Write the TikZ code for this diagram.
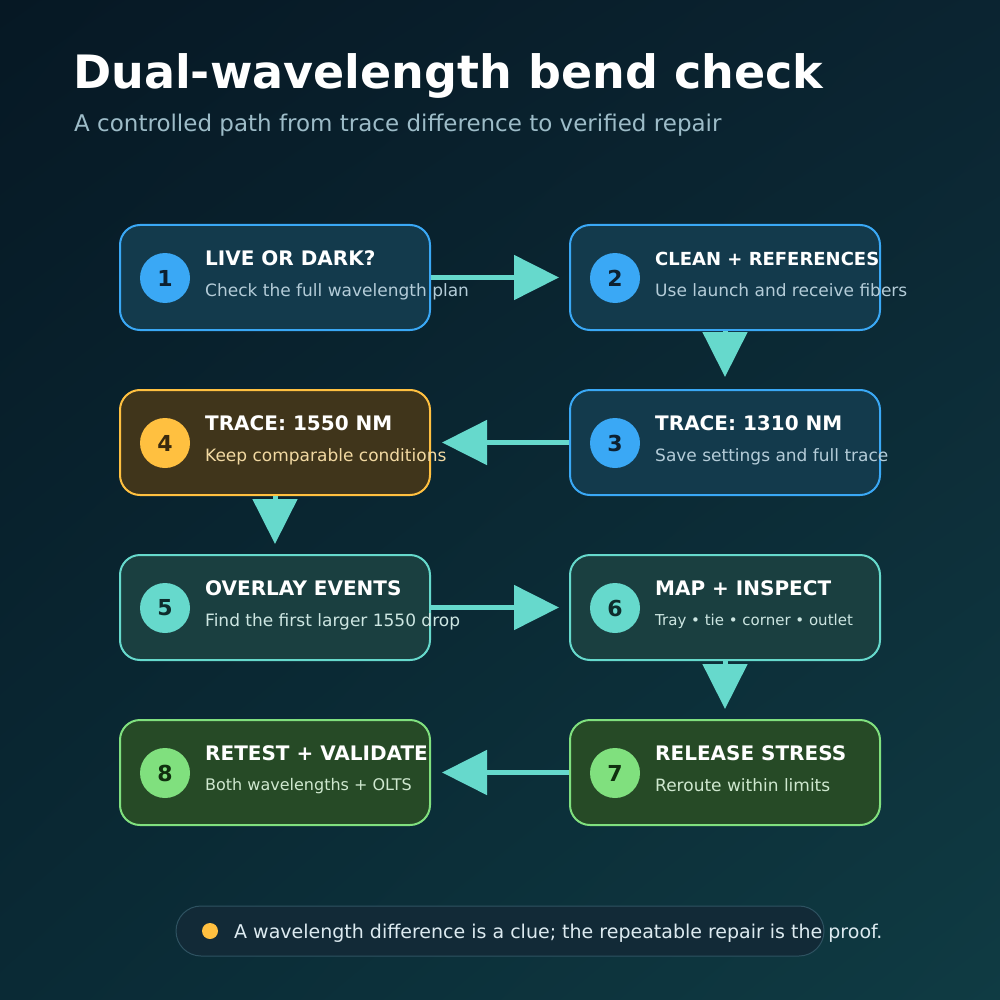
\documentclass[tikz,border=0pt]{standalone}
\usepackage{fontspec}
\setmainfont{DejaVu Sans}
\usetikzlibrary{arrows.meta,shadings}
\definecolor{bgA}{HTML}{061824}
\definecolor{bgB}{HTML}{0B2431}
\definecolor{bgC}{HTML}{0A2A35}
\definecolor{bgD}{HTML}{0F3B43}
\definecolor{cblue}{HTML}{3AA8F5}
\definecolor{cbluefill}{HTML}{133A4C}
\definecolor{cbluesub}{HTML}{B4CCD8}
\definecolor{camber}{HTML}{FFC040}
\definecolor{camberfill}{HTML}{40351B}
\definecolor{cambersub}{HTML}{F2D9A2}
\definecolor{cteal}{HTML}{66D9CC}
\definecolor{ctealfill}{HTML}{1A3F40}
\definecolor{ctealsub}{HTML}{CDE6E2}
\definecolor{cgreen}{HTML}{80E07E}
\definecolor{cgreenfill}{HTML}{264A26}
\definecolor{cgreensub}{HTML}{CFE8CF}
\definecolor{cnum}{HTML}{0D2030}
\definecolor{cnumamber}{HTML}{3A2A0E}
\definecolor{cnumteal}{HTML}{0E2C2C}
\definecolor{cnumgreen}{HTML}{10300F}
\definecolor{csubtitle}{HTML}{9DBCC8}
\definecolor{cpillfill}{HTML}{122A37}
\definecolor{cpilldraw}{HTML}{2E5261}
\definecolor{cfoot}{HTML}{DCEAF0}
\tikzset{
  box/.style={rectangle, rounded corners=20pt, minimum width=310pt, minimum height=105pt, line width=2pt, inner sep=0pt},
  bluebox/.style={box, draw=cblue, fill=cbluefill},
  amberbox/.style={box, draw=camber, fill=camberfill},
  tealbox/.style={box, draw=cteal, fill=ctealfill},
  greenbox/.style={box, draw=cgreen, fill=cgreenfill},
  num/.style={circle, minimum size=50pt, inner sep=0pt, font=\fontsize{22}{26}\selectfont\bfseries},
  ttl/.style={anchor=base west, inner sep=0pt, font=\fontsize{20}{24}\selectfont\bfseries, text=white},
  sub/.style={anchor=base west, inner sep=0pt, font=\fontsize{17}{21}\selectfont},
  arr/.style={draw=cteal, line width=5pt, -{Triangle[length=45pt,width=44pt]}},
}
\begin{document}
\begin{tikzpicture}[x=1pt,y=-1pt]
\useasboundingbox (0,0) rectangle (1000,1000);
\shade[upper left=bgA, upper right=bgB, lower left=bgC, lower right=bgD] (0,0) rectangle (1000,1000);
\node[anchor=base west, inner sep=0pt, text=white, font=\fontsize{46}{52}\selectfont\bfseries] (title) at (73,89) {Dual-wavelength bend check};
\node[anchor=base west, inner sep=0pt, text=csubtitle, font=\fontsize{23}{28}\selectfont] (subtitle) at (74,132) {A controlled path from trace difference to verified repair};
% boxes
\node[bluebox] (b1) at (275,277.5) {};
\node[bluebox] (b2) at (725,277.5) {};
\node[bluebox] (b3) at (725,442.5) {};
\node[amberbox] (b4) at (275,442.5) {};
\node[tealbox] (b5) at (275,607.5) {};
\node[tealbox] (b6) at (725,607.5) {};
\node[greenbox] (b7) at (725,772.5) {};
\node[greenbox] (b8) at (275,772.5) {};
% arrows
\draw[arr] (b1.east) -- ([xshift=-10pt]b2.west);
\draw[arr] (b2.south) -- ([yshift=12pt]b3.north);
\draw[arr] (b3.west) -- ([xshift=11pt]b4.east);
\draw[arr] (b4.south) -- ([yshift=10pt]b5.north);
\draw[arr] (b5.east) -- ([xshift=-10pt]b6.west);
\draw[arr] (b6.south) -- ([yshift=10pt]b7.north);
\draw[arr] (b7.west) -- ([xshift=11pt]b8.east);
% circles
\node[num, fill=cblue, text=cnum] (n1) at (165,278) {1};
\node[num, fill=cblue, text=cnum] (n2) at (615,278) {2};
\node[num, fill=cblue, text=cnum] (n3) at (615,443) {3};
\node[num, fill=camber, text=cnumamber] (n4) at (165,443) {4};
\node[num, fill=cteal, text=cnumteal] (n5) at (165,608) {5};
\node[num, fill=cteal, text=cnumteal] (n6) at (615,608) {6};
\node[num, fill=cgreen, text=cnumgreen] (n7) at (615,773) {7};
\node[num, fill=cgreen, text=cnumgreen] (n8) at (165,773) {8};
% texts
\node[ttl] (t1) at (205,265) {LIVE OR DARK?};
\node[sub, text=cbluesub] (s1) at (205,296) {Check the full wavelength plan};
\node[ttl, font=\fontsize{18}{22}\selectfont\bfseries] (t2) at (655,265) {CLEAN + REFERENCES};
\node[sub, text=cbluesub] (s2) at (655,296) {Use launch and receive fibers};
\node[ttl] (t3) at (655,430) {TRACE: 1310 NM};
\node[sub, text=cbluesub] (s3) at (655,461) {Save settings and full trace};
\node[ttl] (t4) at (205,430) {TRACE: 1550 NM};
\node[sub, text=cambersub] (s4) at (205,461) {Keep comparable conditions};
\node[ttl] (t5) at (205,595) {OVERLAY EVENTS};
\node[sub, text=ctealsub] (s5) at (205,626) {Find the first larger 1550 drop};
\node[ttl] (t6) at (655,595) {MAP + INSPECT};
\node[sub, text=ctealsub, font=\fontsize{15}{18}\selectfont] (s6) at (655,625) {Tray • tie • corner • outlet};
\node[ttl] (t7) at (655,760) {RELEASE STRESS};
\node[sub, text=cgreensub] (s7) at (655,791) {Reroute within limits};
\node[ttl] (t8) at (205,760) {RETEST + VALIDATE};
\node[sub, text=cgreensub, font=\fontsize{16}{20}\selectfont] (s8) at (205,790) {Both wavelengths + OLTS};
% footer
\node[rectangle, rounded corners=25pt, minimum width=648pt, minimum height=50pt, inner sep=0pt, fill=cpillfill, draw=cpilldraw, line width=1pt] (pill) at (500,931) {};
\node[circle, fill=camber, minimum size=16pt, inner sep=0pt] (dot) at (210,931) {};
\node[anchor=base west, inner sep=0pt, text=cfoot, font=\fontsize{19}{23}\selectfont] (foot) at (234,938) {A wavelength difference is a clue; the repeatable repair is the proof.};
\end{tikzpicture}
\end{document}
